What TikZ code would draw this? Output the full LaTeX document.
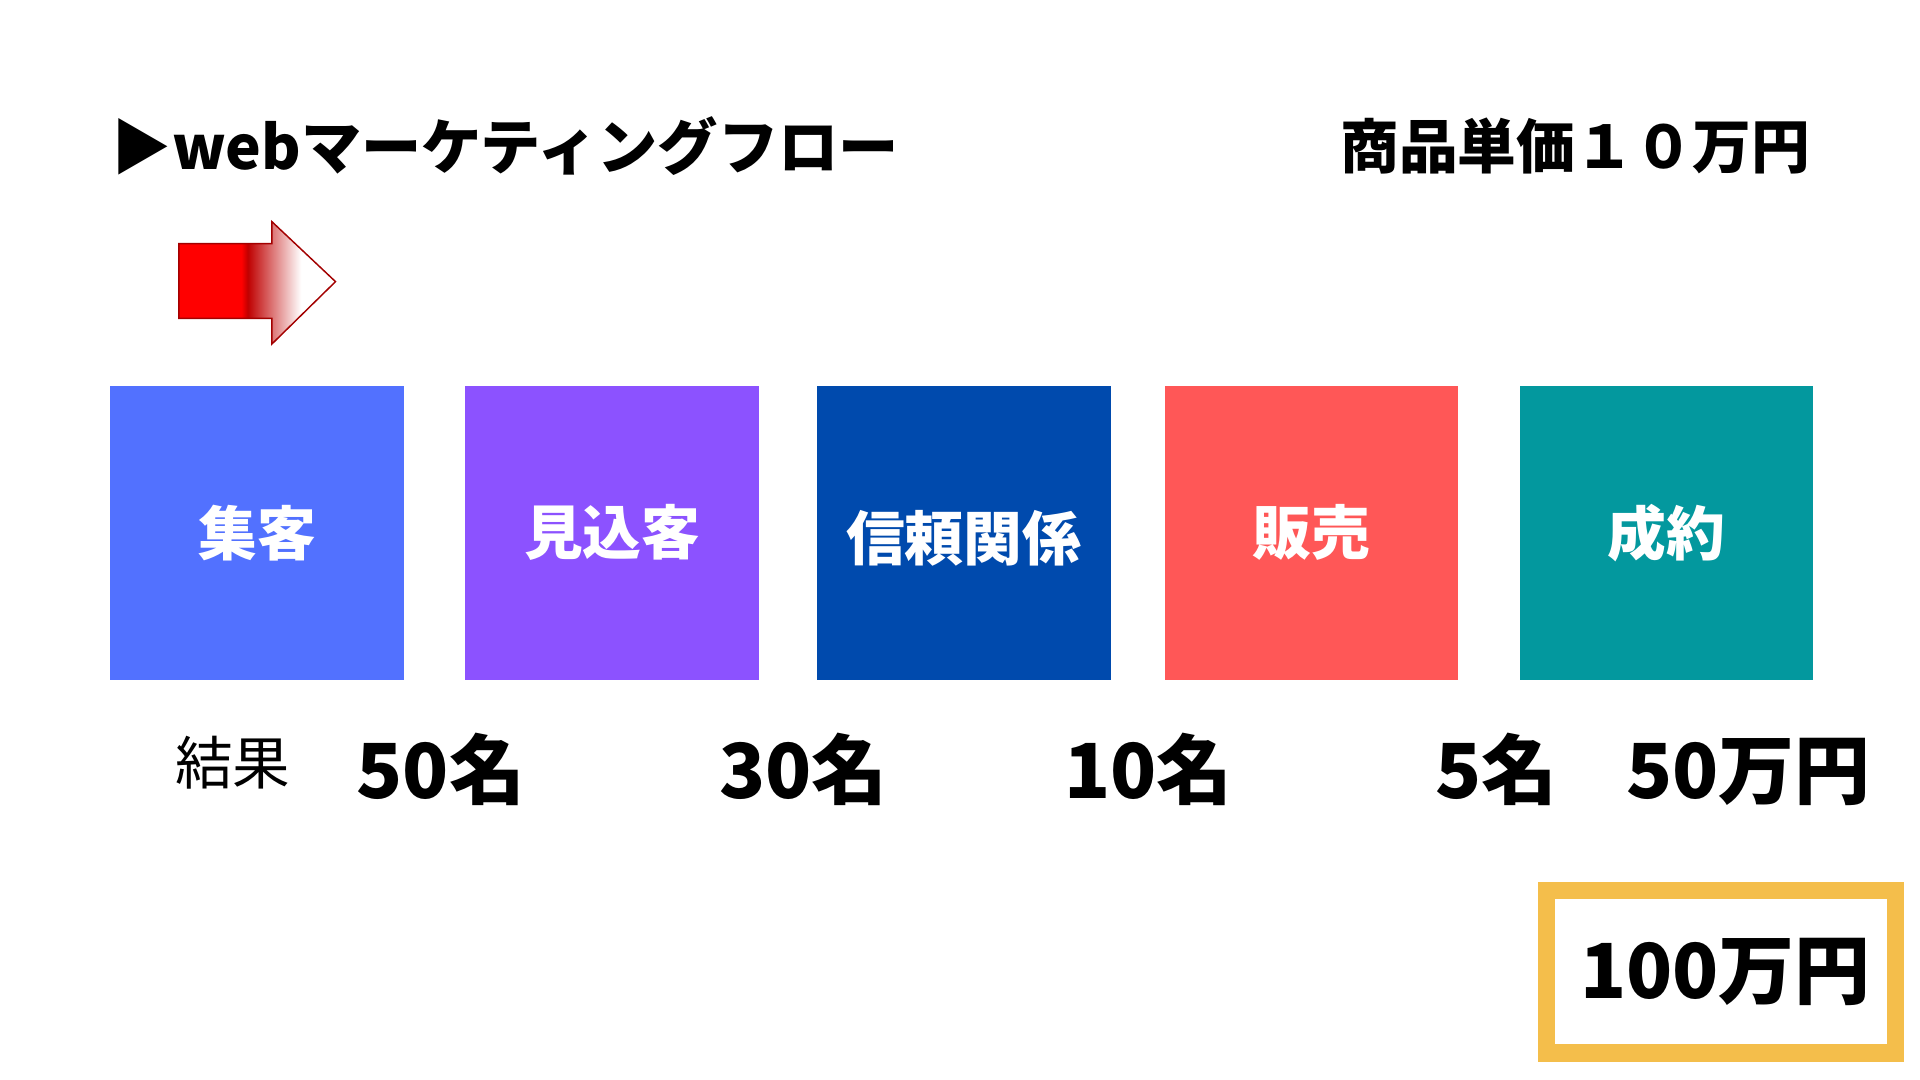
\documentclass[tikz,border=0pt]{standalone}
\usepackage{fontspec}
\setmainfont{Noto Sans CJK JP}
\usetikzlibrary{positioning}

\definecolor{stageblue}{HTML}{5271FF}
\definecolor{stagepurple}{HTML}{8C52FF}
\definecolor{stagenavy}{HTML}{004AAD}
\definecolor{stagered}{HTML}{FF5757}
\definecolor{stageteal}{HTML}{03989E}
\definecolor{goldframe}{HTML}{F4BE4B}
\definecolor{arrowedge}{HTML}{A30000}

% red to white fade for the arrow (stops inside 25bp..75bp)
\pgfdeclarehorizontalshading{arrowfade}{100bp}{color(0bp)=(red); color(45bp)=(red); color(47bp)=(red!75!black); color(64bp)=(white); color(100bp)=(white)}

\begin{document}
\begin{tikzpicture}[% styles used in image code
   x = 0.5pt, y = -0.5pt,
stage/.style = {fill=#1, minimum width=120pt, minimum height=120pt,
                inner sep=0pt, outer sep=0pt, text=white,
                font=\bfseries\fontsize{24}{28}\selectfont},
heading/.style = {inner sep=0pt, font=\bfseries\fontsize{24.6}{28}\selectfont},
result/.style = {inner sep=0pt, anchor=base, font=\bfseries\fontsize{31}{36}\selectfont}
                   ]
	\useasboundingbox (0,0) rectangle (1568,882);

	% headings
	\node[heading, anchor=west] (title) at (91,119) {▶webマーケティングフロー};
	\node[heading, anchor=east, font=\bfseries\fontsize{24}{28}\selectfont] (price) at (1479,119) {商品単価１０万円};

	% fading arrow
	\shade[shading=arrowfade, draw=arrowedge, line width=0.6pt, line join=miter]
		(146,199) -- (222,199) -- (222,181) -- (274,230) -- (222,281) -- (222,260) -- (146,260) -- cycle;

	% stages
	\node[stage=stageblue]   (collect) at (210,435) {集客};
	\node[stage=stagepurple] (prospect) at (500,435) {見込客};
	\node[stage=stagenavy, text height=25pt, text depth=2pt] (trust) at (787,435) {信頼関係};
	\node[stage=stagered]    (sale) at (1071,435) {販売};
	\node[stage=stageteal]   (deal) at (1361,435) {成約};

	% results
	\node[inner sep=0pt, font=\fontsize{23.5}{28}\selectfont] (res) at (190,623) {結果};
	\node[result] (n50) at (360,652) {50名};
	\node[result] (n30) at (656,652) {30名};
	\node[result] (n10) at (938,652) {10名};
	\node[result] (n5) at (1222,652) {5名};
	\node[result] (sales) at (1428,652) {50万円};

	% total
	\node[draw=goldframe, line width=7pt, minimum width=142.5pt, minimum height=66.5pt,
		inner sep=0pt] (total) at (1405.5,793.5) {};
	\node[result, anchor=center] (sum) at (1409,794) {100万円};
\end{tikzpicture}
\end{document}
